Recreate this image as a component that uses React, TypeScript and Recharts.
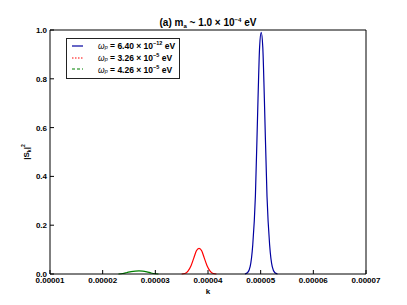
import React from 'react';
import { LineChart, Line, XAxis, YAxis, Legend } from 'recharts';

// k positions and |S_k|^2 values
const kBlue = [4.70e-5, 4.75e-5, 4.80e-5, 4.85e-5, 4.90e-5, 4.95e-5, 4.98e-5, 5.01e-5, 5.04e-5, 5.07e-5, 5.12e-5, 5.17e-5, 5.22e-5, 5.27e-5, 5.32e-5];
const sBlue = [0, 0.005, 0.03, 0.12, 0.32, 0.72, 0.93, 0.99, 0.93, 0.72, 0.32, 0.12, 0.03, 0.005, 0];

const kRed = [3.50e-5, 3.56e-5, 3.62e-5, 3.68e-5, 3.73e-5, 3.78e-5, 3.83e-5, 3.88e-5, 3.93e-5, 3.98e-5, 4.04e-5, 4.10e-5, 4.16e-5];
const sRed = [0, 0.002, 0.012, 0.035, 0.065, 0.095, 0.105, 0.095, 0.065, 0.035, 0.012, 0.002, 0];

const kGreen = [2.30e-5, 2.38e-5, 2.46e-5, 2.54e-5, 2.62e-5, 2.69e-5, 2.76e-5, 2.84e-5, 2.92e-5, 3.00e-5, 3.06e-5];
const sGreen = [0, 0.002, 0.006, 0.010, 0.012, 0.0125, 0.012, 0.009, 0.004, 0.001, 0];

const xTicks = [0.00001, 0.00002, 0.00003, 0.00004, 0.00005, 0.00006, 0.00007];
const yTicks = [0, 0.2, 0.4, 0.6, 0.8, 1.0];

const legendItems = [
  { name: 'blue', value: '6.40', exp: '−12', color: '#0000a0', dash: undefined },
  { name: 'red', value: '3.26', exp: '−5', color: '#ff0000', dash: '1.5 1.5' },
  { name: 'green', value: '4.26', exp: '−5', color: '#008000', dash: '3 2' },
];

// one table, each series only defined inside its own range
const rows: Record<string, number>[] = [];
kGreen.forEach((k, i) => rows.push({ k, green: sGreen[i] }));
kRed.forEach((k, i) => rows.push({ k, red: sRed[i] }));
kBlue.forEach((k, i) => rows.push({ k, blue: sBlue[i] }));
rows.sort((a, b) => a.k - b.k);

const FONT = '"Liberation Sans", Arial, sans-serif';
const tickLineStyle = { stroke: '#000', strokeWidth: 1 };

const BottomTick = ({ x, y, payload }: any) => (
  <text x={x} y={y + 9} textAnchor="middle" fontSize={8} fontWeight="bold" fontFamily={FONT} fill="#000">
    {String(payload.value)}
  </text>
);
const LeftTick = ({ x, y, payload }: any) => (
  <text x={x - 3} y={y + 3} textAnchor="end" fontSize={8} fontWeight="bold" fontFamily={FONT} fill="#000">
    {Number(payload.value).toFixed(1)}
  </text>
);

const LegendBox = () => (
  <div style={{ border: '1px solid #222', background: '#fff', width: 112, height: 38, boxSizing: 'content-box', fontFamily: FONT, fontSize: 8.5, fontWeight: 'bold', paddingTop: 1 }}>
    {legendItems.map((it) => (
      <div key={it.name} style={{ display: 'flex', alignItems: 'center', height: 11.8 }}>
        <svg width={26} height={6} style={{ marginLeft: 5 }}>
          <line x1={0} y1={3} x2={11} y2={3} stroke={it.color} strokeWidth={1.2} strokeDasharray={it.dash} />
        </svg>
        <span style={{ whiteSpace: 'nowrap', lineHeight: '9px' }}>
          <span style={{ fontStyle: 'italic', fontWeight: 'normal' }}>ω</span>
          <span style={{ fontSize: 5.5, fontStyle: 'italic', fontWeight: 'normal' }}>p</span>
          {' = '}{it.value} × 10<sup style={{ fontSize: 5.5 }}>{it.exp}</sup> eV
        </span>
      </div>
    ))}
  </div>
);

export default function App() {
  return (
    <div style={{ position: 'absolute', left: 0, top: 0, width: 407, height: 305, background: '#fff' }}>
      <LineChart width={407} height={305} data={rows} margin={{ top: 29, right: 40, bottom: 0, left: 0 }}>
        <XAxis
          dataKey="k"
          type="number"
          domain={[0.00001, 0.00007]}
          ticks={xTicks}
          interval={0}
          allowDataOverflow
          height={31}
          tickSize={-4}
          tickMargin={4}
          tickLine={tickLineStyle}
          tick={<BottomTick />}
          axisLine={{ stroke: '#000', strokeWidth: 1 }}
          label={{
            content: ({ viewBox }: any) => (
              <text x={viewBox.x + viewBox.width / 2} y={viewBox.y + 20} textAnchor="middle" fontSize={8} fontWeight="bold" fontFamily={FONT}>k</text>
            ),
          }}
        />
        <XAxis
          xAxisId="top"
          orientation="top"
          dataKey="k"
          type="number"
          domain={[0.00001, 0.00007]}
          ticks={xTicks}
          interval={0}
          allowDataOverflow
          height={1}
          tickSize={-4}
          tickMargin={4}
          tickLine={tickLineStyle}
          tick={false}
          axisLine={{ stroke: '#000', strokeWidth: 1 }}
          label={{
            content: ({ viewBox }: any) => (
              <text x={viewBox.x + viewBox.width / 2} y={viewBox.y - 3} textAnchor="middle" fontSize={10} fontWeight="bold" fontFamily={FONT}>
                (a) m<tspan fontSize={6} dy={2}>a</tspan>
                <tspan dy={-2}> ~ 1.0 × 10</tspan>
                <tspan fontSize={6} dy={-4}>−4</tspan>
                <tspan dy={4}> eV</tspan>
              </text>
            ),
          }}
        />
        <YAxis
          domain={[0, 1]}
          ticks={yTicks}
          interval={0}
          width={50}
          tickSize={-4}
          tickMargin={4}
          tickLine={tickLineStyle}
          tick={<LeftTick />}
          axisLine={{ stroke: '#000', strokeWidth: 1 }}
          label={{
            content: ({ viewBox }: any) => {
              const cx = 29;
              const cy = viewBox.y + viewBox.height / 2;
              return (
                <text x={cx} y={cy} transform={`rotate(-90 ${cx} ${cy})`} textAnchor="middle" fontSize={8} fontWeight="bold" fontFamily={FONT}>
                  |S<tspan fontSize={5} dy={2}>k</tspan>
                  <tspan dy={-2}>|</tspan>
                  <tspan fontSize={5} dy={-4}>2</tspan>
                </text>
              );
            },
          }}
        />
        <YAxis
          yAxisId="right"
          orientation="right"
          domain={[0, 1]}
          ticks={yTicks}
          interval={0}
          width={1}
          tickSize={-4}
          tickMargin={4}
          tickLine={tickLineStyle}
          tick={false}
          axisLine={{ stroke: '#000', strokeWidth: 1 }}
        />
        <Legend
          layout="vertical"
          align="center"
          verticalAlign="middle"
          content={<LegendBox />}
          wrapperStyle={{ position: 'absolute', left: 66, top: 38, width: 'auto' }}
        />
        <Line dataKey="green" type="monotone" stroke="#008000" strokeWidth={1.2} dot={false} isAnimationActive={false} />
        <Line dataKey="red" type="monotone" stroke="#ff0000" strokeWidth={1.2} dot={false} isAnimationActive={false} />
        <Line dataKey="blue" type="monotone" stroke="#0000a0" strokeWidth={1.2} dot={false} isAnimationActive={false} />
      </LineChart>
    </div>
  );
}
